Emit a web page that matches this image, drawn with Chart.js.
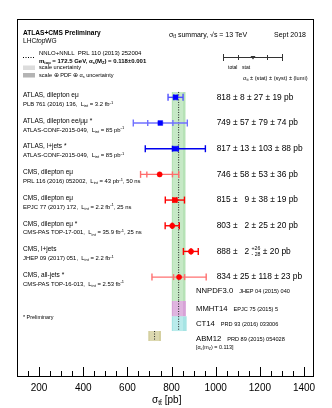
<!DOCTYPE html>
<html>
<head>
<meta charset="utf-8">
<script src="https://cdn.jsdelivr.net/npm/chart.js@4/dist/chart.umd.min.js"></script>
<style>
  html, body { margin: 0; padding: 0; background: #fff; }
  #wrap { width: 332px; height: 408px; }
</style>
</head>
<body>
<div id="wrap"><canvas id="c" width="332" height="408"></canvas></div>
<script>
// ─── Data ────────────────────────────────────────────────────────
const EXPERIMENT = ['ATLAS', 'ATLAS', 'ATLAS', 'CMS', 'CMS', 'CMS', 'CMS', 'CMS'];
const CHANNEL = ['dilepton eμ', 'dilepton ee/μμ *', 'l+jets *', 'dilepton eμ', 'dilepton eμ', 'dilepton eμ *', 'l+jets', 'all-jets *'];
const PUBLICATION = ['PLB 761 (2016) 136', 'ATLAS-CONF-2015-049', 'ATLAS-CONF-2015-049', 'PRL 116 (2016) 052002',
                     'EPJC 77 (2017) 172', 'CMS-PAS TOP-17-001', 'JHEP 09 (2017) 051', 'CMS-PAS TOP-16-013'];
const LUMI_INT = ['3.2 fb', '85 pb', '85 pb', '43 pb', '2.2 fb', '35.9 fb', '2.2 fb', '2.53 fb'];
const BUNCH = ['', '', '', '50 ns', '25 ns', '25 ns', '', ''];

const XSEC    = [818, 749, 817, 746, 815, 803, 888, 834];
const STAT    = [8, 57, 13, 58, 9, 2, 2, 25];
const SYST_UP = [27, 79, 103, 53, 38, 25, 26, 118];
const SYST_DN = [27, 79, 103, 53, 38, 25, 28, 118];
const LUMI    = [19, 74, 88, 36, 19, 20, 20, 23];

const PDF_SET   = ['NNPDF3.0', 'MMHT14', 'CT14', 'ABM12'];
const PDF_REF   = ['JHEP 04 (2015) 040', 'EPJC 75 (2015) 5', 'PRD 93 (2016) 033006', 'PRD 89 (2015) 054028'];
const PDF_XSEC  = [832, 832, 832, 723];
const TOTAL_LO  = [800, 800, 800, 694];
const TOTAL_HI  = [864, 865, 869, 752];
const SCALE_LO  = [806, 806, 806, 700];
const SCALE_HI  = [852, 852, 852, 744];

const X_TICKS = [200, 400, 600, 800, 1000, 1200, 1400];

// ─── Styles / layout ─────────────────────────────────────────────
const FONT = "'Liberation Sans', Arial, Helvetica, sans-serif";
const BAR_COLOR  = ['#5252ff', '#7070ff', '#0000ee', '#ff6c6c', '#ff0000', '#ff0000', '#ff0000', '#ff7070'];
const MARK_COLOR = ['#0000ff', '#0000ff', '#0000ff', '#ff0000', '#ff0000', '#ff0000', '#ff0000', '#ff0000'];
const BAND_OUTER = ['#b6e2b6', '#d7a2d7', '#a6e4e4', '#d3ce9c'];
const BAND_INNER = ['#c6e9c6', '#dfb4df', '#b9ebeb', '#dcd8b0'];
// theory band extents in row units (measurements sit at rows 0..7)
const BAND_TOP = [-0.21, 7.93, 8.52, 9.10];
const BAND_BOT = [7.93, 8.52, 9.10, 9.49];

const totErr = (i, up) => Math.sqrt(STAT[i] ** 2 + (up ? SYST_UP[i] : SYST_DN[i]) ** 2 + LUMI[i] ** 2);

// ─── Datasets ────────────────────────────────────────────────────
const datasets = [];

datasets.push({
  data: XSEC.map((v, i) => ({ x: v, y: i })),
  showLine: false,
  pointStyle: EXPERIMENT.map(e => e === 'ATLAS' ? 'rect' : 'circle'),
  pointRadius: EXPERIMENT.map(e => e === 'ATLAS' ? 3.4 : 2.6),
  pointBackgroundColor: MARK_COLOR,
  pointBorderColor: MARK_COLOR,
  pointBorderWidth: 0.5,
  order: 0
});

XSEC.forEach((v, i) => {
  datasets.push({
    data: [{ x: v - totErr(i, false), y: i }, { x: v + totErr(i, true), y: i }],
    borderColor: BAR_COLOR[i], borderWidth: 1.4,
    pointStyle: 'line', rotation: 90, pointRadius: 3.5,
    pointBorderColor: BAR_COLOR[i], pointBorderWidth: 1.4,
    order: 1
  });
});

datasets.push({
  data: XSEC.flatMap((v, i) => [{ x: v - STAT[i], y: i }, { x: v + STAT[i], y: i }]),
  showLine: false,
  pointStyle: 'line', rotation: 90, pointRadius: 3,
  pointBorderColor: XSEC.flatMap((v, i) => [BAR_COLOR[i], BAR_COLOR[i]]),
  pointBorderWidth: 1.4,
  order: 1
});

function band(lo, hi, top, bot, color, order) {
  datasets.push({ data: [{ x: lo, y: top }, { x: hi, y: top }], borderColor: 'rgba(0,0,0,0)', borderWidth: 0,
                  pointRadius: 0, fill: '+1', backgroundColor: color, order });
  datasets.push({ data: [{ x: lo, y: bot }, { x: hi, y: bot }], borderColor: 'rgba(0,0,0,0)', borderWidth: 0,
                  pointRadius: 0, fill: false, order });
}

PDF_SET.forEach((s, k) => {
  band(TOTAL_LO[k], TOTAL_HI[k], BAND_TOP[k], BAND_BOT[k], BAND_OUTER[k], 4);
  band(SCALE_LO[k], SCALE_HI[k], BAND_TOP[k], BAND_BOT[k], BAND_INNER[k], 3);
  datasets.push({
    data: [{ x: PDF_XSEC[k], y: BAND_TOP[k] }, { x: PDF_XSEC[k], y: BAND_BOT[k] }],
    borderColor: '#222', borderWidth: 1, borderDash: [1, 1.5], pointRadius: 0, fill: false, order: 2
  });
});

// ─── Text helpers ────────────────────────────────────────────────
function rich(ctx, x, y, parts, size, base = '') {
  ctx.textBaseline = 'middle';
  ctx.textAlign = 'left';
  for (const p of parts) {
    if (p && p.up !== undefined) {
      const fs = size * 0.62;
      ctx.font = `${base}${fs}px ${FONT}`;
      ctx.fillText(p.up, x, y - size * 0.33);
      ctx.fillText(p.dn, x, y + size * 0.33);
      x += Math.max(ctx.measureText(p.up).width, ctx.measureText(p.dn).width);
      continue;
    }
    const [s, m] = typeof p === 'string' ? [p, ''] : p;
    const small = m === 'sub' || m === 'sup';
    const fs = small ? size * 0.68 : size;
    const style = (m === 'i' ? 'italic ' : '') + base;
    ctx.font = `${style}${fs}px ${FONT}`;
    const dy = m === 'sub' ? size * 0.28 : m === 'sup' ? -size * 0.32 : 0;
    ctx.fillText(s, x, y + dy);
    x += ctx.measureText(s).width;
  }
  return x;
}

const annotations = {
  id: 'annotations',
  afterDraw(chart) {
    const { ctx, chartArea: a, scales: { x, y } } = chart;
    ctx.save();
    ctx.fillStyle = '#000';
    ctx.strokeStyle = '#000';

    // frame + inward ticks
    ctx.lineWidth = 1;
    ctx.strokeRect(a.left + 0.5, a.top + 0.5, a.right - a.left - 1, a.bottom - a.top);
    ctx.beginPath();
    for (let v = 150; v < x.max; v += 50) {
      const px = Math.round(x.getPixelForValue(v)) + 0.5;
      const len = X_TICKS.includes(v) ? 9 : 5;
      ctx.moveTo(px, a.bottom); ctx.lineTo(px, a.bottom - len);
    }
    ctx.stroke();

    // axis title
    rich(ctx, 152, 400, ['σ', ['tt̄', 'sub'], ' [pb]'], 10);

    // header, left
    rich(ctx, 23, 32.7, ['ATLAS+CMS Preliminary'], 6.6, 'bold ');
    rich(ctx, 23, 41, ['LHC', ['top', 'i'], 'WG'], 6.6);
    ctx.beginPath(); ctx.setLineDash([1, 1.5]);
    ctx.moveTo(23, 57.5); ctx.lineTo(34, 57.5); ctx.stroke(); ctx.setLineDash([]);
    rich(ctx, 39, 53.3, ['NNLO+NNLL  PRL 110 (2013) 252004'], 6);
    rich(ctx, 39, 61, ['m', ['top', 'sub'], ' = 172.5 GeV, α', ['s', 'sub'], '(M', ['Z', 'sub'], ') = 0.118±0.001'], 6, 'bold ');
    ctx.fillStyle = '#dcdcdc'; ctx.fillRect(23, 65.5, 12, 4.5);
    ctx.fillStyle = '#b4b4b4'; ctx.fillRect(23, 73, 12, 4.5);
    ctx.fillStyle = '#000';
    rich(ctx, 39, 67.8, ['scale uncertainty'], 5.6);
    rich(ctx, 39, 75.5, ['scale ⊕ PDF ⊕ α', ['s', 'sub'], ' uncertainty'], 5.6);

    // header, right
    rich(ctx, 169, 35, ['σ', ['tt̄', 'sub'], ' summary, √s = 13 TeV'], 7);
    rich(ctx, 274, 35, ['Sept 2018'], 7);
    ctx.strokeStyle = '#333'; ctx.lineWidth = 1;
    ctx.beginPath();
    ctx.moveTo(223, 57.5); ctx.lineTo(282, 57.5);
    [223, 282].forEach(px => { ctx.moveTo(px + 0.5, 54); ctx.lineTo(px + 0.5, 61); });
    [238, 267].forEach(px => { ctx.moveTo(px + 0.5, 55); ctx.lineTo(px + 0.5, 60); });
    ctx.stroke();
    ctx.fillStyle = '#333';
    ctx.beginPath(); ctx.moveTo(250.5, 56); ctx.lineTo(255.5, 56); ctx.lineTo(253, 59.5); ctx.closePath(); ctx.fill();
    ctx.fillStyle = '#000';
    rich(ctx, 228, 67.7, ['total'], 5);
    rich(ctx, 242, 67.7, ['stat'], 5);
    rich(ctx, 243, 78.3, ['σ', ['tt̄', 'sub'], ' ± (stat) ± (syst) ± (lumi)'], 5.6);

    // measurement rows
    XSEC.forEach((v, i) => {
      const py = y.getPixelForValue(i);
      rich(ctx, 23, py - 2, [`${EXPERIMENT[i]}, ${CHANNEL[i]}`], 6.5);
      const [lv, lu] = LUMI_INT[i].split(' ');
      const parts = [PUBLICATION[i] + ',  L', ['int', 'sub'], ` = ${lv} ${lu}`, ['-1', 'sup']];
      if (BUNCH[i]) parts.push(', ' + BUNCH[i]);
      rich(ctx, 23, py + 7, parts, 5.9);
      const st = EXPERIMENT[i] === 'CMS' ? String(STAT[i]).padStart(2, '\u2007') : String(STAT[i]);
      const sy = SYST_UP[i] === SYST_DN[i]
        ? [` ± ${SYST_UP[i]}`]
        : [' ', { up: `+${SYST_UP[i]}`, dn: `- ${SYST_DN[i]}` }];
      rich(ctx, 216.7, py, [`${v} ± ${st}`, ...sy, ` ± ${LUMI[i]} pb`], 8.4);
    });

    // theory labels
    PDF_SET.forEach((s, k) => {
      const py = k === 0 ? y.getPixelForValue(BAND_BOT[0] - 0.4)
                         : y.getPixelForValue((BAND_TOP[k] + BAND_BOT[k]) / 2) + (k === 3 ? 3 : 0);
      const xe = rich(ctx, 196, py, [s], 7.7);
      rich(ctx, xe + 6, py + 0.5, [PDF_REF[k]], 5.6);
    });
    rich(ctx, 196, 347.5, ['[α', ['s', 'sub'], '(m', ['Z', 'sub'], ') = 0.113]'], 5.4);

    rich(ctx, 23, 318, ['* Preliminary'], 5.4);
    ctx.restore();
  }
};

// ─── Chart ───────────────────────────────────────────────────────
new Chart(document.getElementById('c'), {
  type: 'line',
  data: { datasets },
  options: {
    responsive: false,
    devicePixelRatio: 1,
    animation: false,
    layout: { padding: { left: 17, right: 18, top: 19, bottom: 0 } },
    plugins: { legend: { display: false }, tooltip: { enabled: false } },
    elements: { line: { tension: 0 } },
    scales: {
      x: {
        type: 'linear', min: 100, max: 1445,
        ticks: {
          stepSize: 200, includeBounds: false, autoSkip: false, maxRotation: 0,
          callback: v => X_TICKS.includes(v) ? v : '',
          color: '#000', font: { family: FONT, size: 10 }, padding: 6
        },
        grid: { display: false, drawTicks: false },
        border: { display: false },
        afterFit: s => { s.height = 32; }
      },
      y: { type: 'linear', min: -3.05, max: 10.85, reverse: true, display: false }
    }
  },
  plugins: [annotations]
});
</script>
</body>
</html>
